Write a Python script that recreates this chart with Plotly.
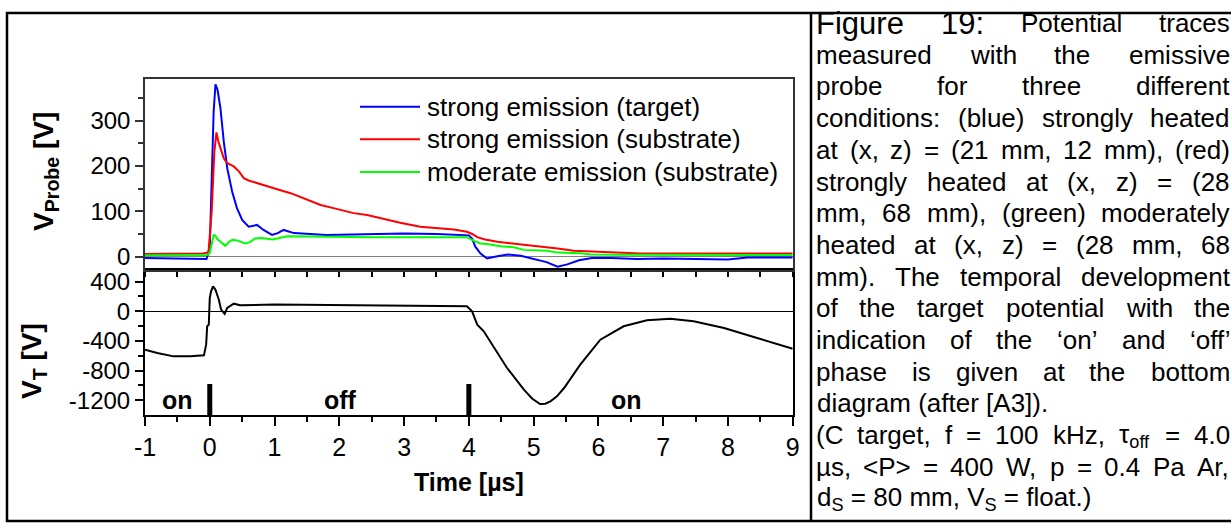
import re
import plotly.graph_objects as go

W, H = 1231, 523

# ---------------- data ----------------
t_blue = [-1, -0.6, -0.2, -0.05, 0.0, 0.03, 0.06, 0.088, 0.12, 0.165, 0.216, 0.27, 0.346, 0.42,
          0.5, 0.6, 0.73, 0.83, 0.96, 1.05, 1.14, 1.3, 1.5, 1.8, 2.2, 2.6, 3.0, 3.5, 3.9, 4.0,
          4.05, 4.1, 4.18, 4.28, 4.44, 4.6, 4.8, 5.0, 5.2, 5.37, 5.52, 5.7, 5.9, 6.2, 6.6, 7.0,
          7.5, 8.0, 8.3, 8.6, 9.0]
v_blue = [-3, -4, -6, -5, 20, 150, 320, 380, 368, 327, 254, 195, 143, 107,
          81, 66, 70, 59, 48, 52, 59, 52, 50, 48, 49, 50, 51, 50, 48, 47,
          40, 22, 7, -4, 1, 5, 2, -5, -12, -22, -17, -8, -3, -3, -5, -4,
          -5, -6, -2, -2, -2]

t_red = [-1, -0.5, -0.1, -0.02, 0.03, 0.07, 0.103, 0.13, 0.165, 0.216, 0.27, 0.37, 0.45, 0.525,
         0.6, 0.73, 0.99, 1.25, 1.5, 1.71, 1.91, 2.22, 2.43, 2.74, 2.94, 3.25, 3.5, 3.77, 3.97,
         4.05, 4.13, 4.25, 4.44, 4.69, 4.85, 5.1, 5.37, 5.62, 6.0, 6.4, 6.65, 7.0, 7.5, 8.0,
         8.5, 9.0]
v_red = [6, 6, 7, 10, 100, 230, 274, 255, 239, 217, 206, 199, 188, 173,
         168, 162, 151, 140, 125, 114, 107, 96, 92, 81, 75, 66, 63, 60, 55,
         50, 43, 38, 33, 29, 27, 22, 18, 13, 11, 9.5, 7, 7, 7, 7,
         7, 7]

t_green = [-1, -0.5, -0.05, 0.0, 0.03, 0.06, 0.088, 0.11, 0.165, 0.24, 0.3, 0.35, 0.42, 0.55,
           0.62, 0.7, 0.8, 0.97, 1.2, 1.75, 2.5, 3.2, 3.97, 4.08, 4.18, 4.28, 4.49, 4.69, 4.85,
           5.21, 5.37, 5.72, 5.88, 6.3, 6.9, 7.5, 8.0, 9.0]
v_green = [3, 3, 3, 8, 30, 48, 46, 40, 33, 24, 33, 37, 36, 29,
           32, 40, 41, 38, 45, 44, 43, 43, 43, 35, 29, 28, 23, 21, 15,
           13, 9, 7.5, 5, 4.5, 4, 4, 3.5, 3.5]

t_target = [-1, -0.81, -0.56, -0.3, -0.09, -0.056, -0.04, -0.015, 0.0, 0.02, 0.05, 0.088, 0.14,
            0.175, 0.23, 0.27, 0.37, 0.47, 0.99, 2.0, 3.0, 3.56, 3.97, 4.05, 4.13, 4.23, 4.39,
            4.59, 4.85, 4.98, 5.1, 5.18, 5.26, 5.36, 5.47, 5.72, 6.03, 6.39, 6.75, 7.11, 7.47,
            7.94, 8.45, 9.0]
v_target = [-518, -563, -608, -608, -594, -450, -202, -180, 180, 270, 337, 292, 157,
            22, -36, 45, 103, 81, 90, 81, 75, 67, 67, 0, -180, -270, -495,
            -765, -1058, -1180, -1250, -1247, -1215, -1147, -1035, -720, -383, -202, -121, -100, -135,
            -225, -360, -505]

series_names = ["strong emission (target)", "strong emission (substrate)",
                "moderate emission (substrate)"]
series_colors = ["#0000FF", "#FF0000", "#00FF00"]

phase_switch_t = [0, 4]
phase_bar_v = [-1400, -980]
phase_labels = ["on", "off", "on"]
phase_label_t = [-0.5, 2.02, 6.43]

x_ticks = [-1, 0, 1, 2, 3, 4, 5, 6, 7, 8, 9]
x_ticktext = ["-1", "0", "1", "2", "3", "4", "5", "6", "7", "8", "9"]
x_minor = [-0.5, 0.5, 1.5, 2.5, 3.5, 4.5, 5.5, 6.5, 7.5, 8.5]
probe_ticks = [0, 100, 200, 300]
probe_minor = [50, 150, 250, 350]
vt_ticks = [400, 0, -400, -800, -1200]
vt_ticktext = ["400", "0", "-400", "-800", "-1200"]
vt_minor = [200, -200, -600, -1000]

caption_lines = [
    ("Figure 19: Potential traces", True),
    ("measured with the emissive", True),
    ("probe for three different", True),
    ("conditions: (blue) strongly heated", True),
    ("at (x, z) = (21 mm, 12 mm), (red)", True),
    ("strongly heated at (x, z) = (28", True),
    ("mm, 68 mm), (green) moderately", True),
    ("heated at (x, z) = (28 mm, 68", True),
    ("mm). The temporal development", True),
    ("of the target potential with the", True),
    ("indication of the \u2018on\u2019 and \u2018off\u2019", True),
    ("phase is given at the bottom", True),
    ("diagram (after [A3]).", False),
    ("(C target, f = 100 kHz, \u03c4<sub>off</sub> = 4.0", True),
    ("\u00b5s, &lt;P&gt; = 400 W, p = 0.4 Pa Ar,", True),
    ("d<sub>S</sub> = 80 mm, V<sub>S</sub> = float.)", False),
]

# ---------------- helpers ----------------
FONT = "Liberation Sans, Arial, sans-serif"


def pxx(x):
    return x / W


def pxy(y):
    return 1 - y / H


AW = {' ': 278, '(': 333, ')': 333, ',': 278, '.': 278, ':': 278, '=': 584, '[': 278, ']': 278,
      '<': 584, '>': 584, '\u2018': 222, '\u2019': 222, '-': 333, '\u00b5': 556, '\u03c4': 450}
for c, w in zip("abcdefghijklmnopqrstuvwxyz",
                [556, 556, 500, 556, 556, 278, 556, 556, 222, 222, 500, 222, 833, 556, 556, 556,
                 556, 333, 500, 278, 556, 500, 722, 500, 500, 500]):
    AW[c] = w
for c, w in zip("ABCDEFGHIJKLMNOPQRSTUVWXYZ",
                [667, 667, 722, 722, 667, 611, 778, 722, 278, 500, 667, 556, 833, 722, 778, 667,
                 778, 722, 667, 611, 722, 667, 944, 667, 667, 611]):
    AW[c] = w
for c in "0123456789":
    AW[c] = 556


def word_width(word, size):
    word = word.replace("&lt;", "<").replace("&gt;", ">")
    total = 0.0
    for part in re.split(r"(<sub>.*?</sub>)", word):
        if part.startswith("<sub>"):
            inner = part[5:-6]
            total += sum(AW.get(ch, 556) for ch in inner) / 1000 * size * 0.7
        else:
            total += sum(AW.get(ch, 556) for ch in part) / 1000 * size
    return total


# ---------------- figure ----------------
fig = go.Figure()

for tt, vv, nm, col in zip([t_blue, t_red, t_green], [v_blue, v_red, v_green],
                           series_names, series_colors):
    fig.add_trace(go.Scatter(x=tt, y=vv, xaxis="x2", yaxis="y2", mode="lines", name=nm,
                             line=dict(color=col, width=2), showlegend=False))

fig.add_trace(go.Scatter(x=t_target, y=v_target, xaxis="x", yaxis="y", mode="lines",
                         name="V_T", line=dict(color="black", width=2), showlegend=False))
for ts in phase_switch_t:
    fig.add_trace(go.Scatter(x=[ts, ts], y=phase_bar_v, xaxis="x", yaxis="y", mode="lines",
                             line=dict(color="black", width=5), showlegend=False,
                             hoverinfo="skip"))

X0, X1 = 145, 792.7
TOP0, MID, BOT = 79.3, 270.3, 415.3
TICKSIZE = 24

fig.update_layout(
    width=W, height=H, autosize=False,
    margin=dict(l=0, r=0, t=0, b=0),
    paper_bgcolor="white", plot_bgcolor="white",
    font=dict(family=FONT, color="black", size=25),
    xaxis=dict(domain=[pxx(X0), pxx(X1)], range=[-1, 9], anchor="y",
               tickmode="array", tickvals=x_ticks, ticktext=x_ticktext,
               ticks="outside", ticklen=9, tickwidth=1.5, tickcolor="black",
               minor=dict(tickvals=x_minor, ticks="outside", ticklen=5, tickwidth=1.5,
                          tickcolor="black"),
               showline=True, linewidth=2, linecolor="black", mirror=True,
               showgrid=False, zeroline=False, tickfont=dict(size=TICKSIZE + 1),
               automargin=False),
    xaxis2=dict(domain=[pxx(X0), pxx(X1)], range=[-1, 9], anchor="y2", matches="x",
                showticklabels=False, ticks="outside", ticklen=5, tickwidth=1.5,
                tickcolor="black", tickmode="linear", tick0=0, dtick=0.5,
                showline=True, linewidth=1.5, linecolor="#333333", mirror=True,
                showgrid=False, zeroline=False, automargin=False),
    yaxis=dict(domain=[pxy(BOT), pxy(MID)], range=[-1403, 553], anchor="x",
               tickmode="array", tickvals=vt_ticks, ticktext=vt_ticktext,
               ticks="outside", ticklen=8, tickwidth=1.5, tickcolor="black",
               minor=dict(tickvals=vt_minor, ticks="outside", ticklen=5, tickwidth=1.5,
                          tickcolor="black"),
               showline=True, linewidth=2, linecolor="black", mirror=True,
               showgrid=False, zeroline=True, zerolinecolor="black", zerolinewidth=1,
               tickfont=dict(size=TICKSIZE), automargin=False),
    yaxis2=dict(domain=[pxy(MID), pxy(TOP0)], range=[-30, 391], anchor="x2",
                tickmode="array", tickvals=probe_ticks,
                ticks="outside", ticklen=8, tickwidth=1.5, tickcolor="#333333",
                minor=dict(tickvals=probe_minor, ticks="outside", ticklen=5, tickwidth=1.5,
                           tickcolor="#333333"),
                showline=True, linewidth=1.5, linecolor="#333333", mirror=True,
                showgrid=False, zeroline=True, zerolinecolor="#808080", zerolinewidth=1,
                tickfont=dict(size=TICKSIZE), automargin=False),
)

annotations = []
shapes = []

# axis titles
annotations.append(dict(text="<b>V<sub>Probe</sub> [V]</b>", x=pxx(46), y=pxy(172),
                        xref="paper", yref="paper", textangle=-90, showarrow=False,
                        font=dict(size=28), xanchor="center", yanchor="middle"))
annotations.append(dict(text="<b>V<sub>T</sub> [V]</b>", x=pxx(33), y=pxy(361),
                        xref="paper", yref="paper", textangle=-90, showarrow=False,
                        font=dict(size=28), xanchor="center", yanchor="middle"))
annotations.append(dict(text="<b>Time [\u00b5s]</b>", x=pxx(469), y=pxy(482),
                        xref="paper", yref="paper", showarrow=False,
                        font=dict(size=25), xanchor="center", yanchor="middle"))

# phase labels
for lab, tl in zip(phase_labels, phase_label_t):
    annotations.append(dict(text="<b>%s</b>" % lab, x=tl, y=-1200, xref="x", yref="y",
                            showarrow=False, font=dict(size=25), xanchor="center",
                            yanchor="middle"))

# legend (drawn manually)
leg_rows = [106.7, 139.3, 172.0]
for nm, col, ry in zip(series_names, series_colors, leg_rows):
    shapes.append(dict(type="line", xref="paper", yref="paper", x0=pxx(360), x1=pxx(420),
                       y0=pxy(ry), y1=pxy(ry), line=dict(color=col, width=2)))
    annotations.append(dict(text=nm, x=pxx(425), y=pxy(ry), xref="paper", yref="paper",
                            showarrow=False, font=dict(size=26), xanchor="left",
                            yanchor="middle"))

# frame and caption divider
shapes.append(dict(type="rect", xref="paper", yref="paper", x0=pxx(7), x1=pxx(1240),
                   y0=pxy(521), y1=pxy(13), line=dict(color="black", width=2.5)))
shapes.append(dict(type="line", xref="paper", yref="paper", x0=pxx(811), x1=pxx(811),
                   y0=pxy(521), y1=pxy(13), line=dict(color="black", width=2.5)))

# caption (justified words)
CL, CR = 815, 1229
BODY = 26
BIG = 31
line_y0, pitch = 23, 31.7
for i, (line, just) in enumerate(caption_lines):
    yc = line_y0 + pitch * i
    words = line.split(" ")
    sizes = [BODY] * len(words)
    if i == 0:
        sizes[0] = BIG
        sizes[1] = BIG
    if not just:
        annotations.append(dict(text=line, x=pxx(CL), y=pxy(yc), xref="paper", yref="paper",
                                showarrow=False, font=dict(size=BODY), xanchor="left",
                                yanchor="middle"))
        continue
    widths = [word_width(w, s) for w, s in zip(words, sizes)]
    gap = (CR - CL - sum(widths)) / (len(words) - 1)
    xcur = CL
    for w, s, wd in zip(words, sizes, widths):
        annotations.append(dict(text=w, x=pxx(xcur), y=pxy(yc), xref="paper", yref="paper",
                                showarrow=False, font=dict(size=s), xanchor="left",
                                yanchor="middle", borderpad=0))
        xcur += wd + gap

fig.update_layout(annotations=annotations, shapes=shapes)
fig.write_html("out.html")
